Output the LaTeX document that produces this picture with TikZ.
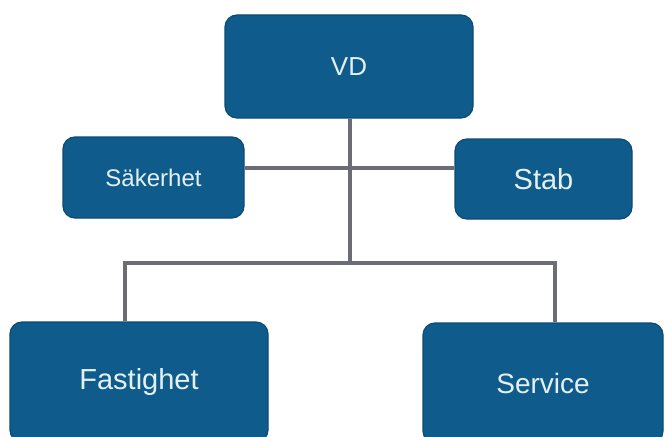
\documentclass[tikz,border=0pt]{standalone}
\usepackage{fontspec}
\setmainfont{Liberation Sans}
\definecolor{orgblue}{HTML}{0F5C8C}
\definecolor{orgedge}{HTML}{0B4A72}
\definecolor{orgtext}{HTML}{E4F0F4}
\definecolor{orgline}{HTML}{6C6C74}
\begin{document}
\begin{tikzpicture}[x=1pt, y=-1pt, unit/.style = {draw=orgedge, line width=1.2pt, fill=orgblue, rounded corners=12pt, text=orgtext, inner sep=0pt}, link/.style = {draw=orgline, line width=4pt}]
\useasboundingbox (0,0) rectangle (668,436);
\clip (0,0) rectangle (668,436);
\node[unit, minimum width=248pt, minimum height=103pt, font=\fontsize{26}{30}\selectfont] (vd) at (349,66.5) {VD};
\node[unit, minimum width=181pt, minimum height=81pt, font=\fontsize{24}{28}\selectfont] (sak) at (153.5,177.5) {Säkerhet};
\node[unit, minimum width=177pt, minimum height=80pt, font=\fontsize{29}{34}\selectfont] (stab) at (543.5,179) {Stab};
\node[unit, minimum width=258pt, minimum height=120pt, font=\fontsize{29}{34}\selectfont] (fast) at (139,382) {Fastighet};
\node[unit, minimum width=240pt, minimum height=120pt, font=\fontsize{28}{33}\selectfont] (serv) at (543,383) {Service};
\coordinate (bus) at (350,263);
\draw[link] (vd.south -| bus) -- (bus);
\draw[link] (sak.east |- 0,168) -- (stab.west |- 0,168);
\draw[link] ([xshift=-14pt]fast.north) |- (bus) -| ([xshift=12pt]serv.north);
\end{tikzpicture}
\end{document}
